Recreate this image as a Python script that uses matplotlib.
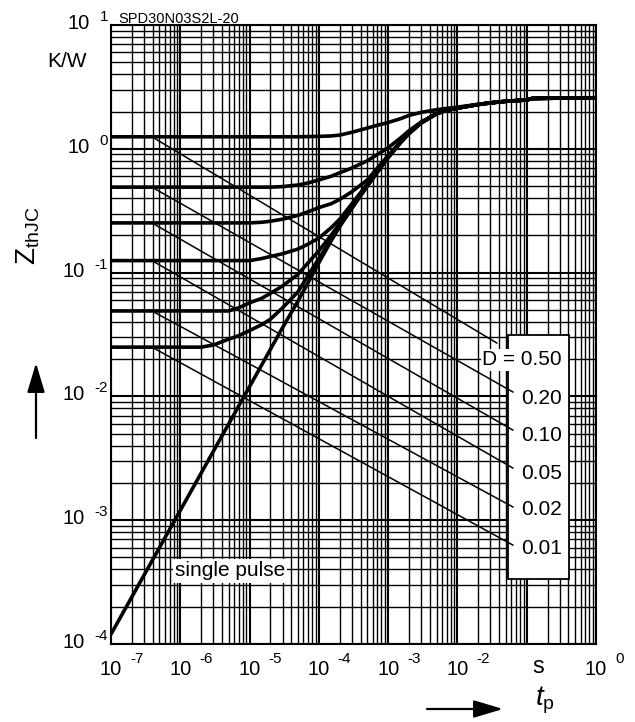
import numpy as np
import matplotlib
matplotlib.use('Agg')
import matplotlib.pyplot as plt
from matplotlib.ticker import LogLocator, NullFormatter
from matplotlib.patches import Rectangle

plt.rcParams['font.family'] = ['Liberation Sans', 'DejaVu Sans']
plt.rcParams['mathtext.fontset'] = 'custom'
plt.rcParams['mathtext.rm'] = 'Liberation Sans'
plt.rcParams['mathtext.it'] = 'Liberation Sans:italic'

# ---------------- data ----------------
tp = [1e-7, 1e-6, 2e-6, 3e-6, 5e-6, 7e-6, 1e-5, 1.5e-5, 2e-5, 3e-5, 5e-5, 7e-5,
      1e-4, 1.5e-4, 2e-4, 3e-4, 5e-4, 7e-4, 1e-3, 1.5e-3, 2e-3, 3e-3, 5e-3, 7e-3,
      1e-2, 2e-2, 3e-2, 5e-2, 1e-1, 1.2e-1, 2e-1, 5e-1, 1.0]

z_single = [1.2e-4, 1.2e-3, 2.4e-3, 3.6e-3, 6.0e-3, 8.4e-3, 1.2e-2, 1.8e-2, 2.4e-2,
            3.6e-2, 5.9e-2, 8.3e-2, 0.12, 0.18, 0.235, 0.33, 0.50, 0.65, 0.85,
            1.12, 1.33, 1.62, 1.92, 2.05, 2.13, 2.28, 2.35, 2.42, 2.48, 2.55,
            2.56, 2.57, 2.57]
z_d50 = [1.25, 1.25, 1.25, 1.25, 1.25, 1.25, 1.25, 1.25, 1.25, 1.25, 1.25, 1.255,
         1.26, 1.27, 1.29, 1.36, 1.47, 1.55, 1.63, 1.75, 1.86, 1.97, 2.07, 2.12,
         2.17, 2.29, 2.35, 2.42, 2.48, 2.55, 2.56, 2.57, 2.57]
z_d20 = [0.49, 0.49, 0.49, 0.49, 0.49, 0.49, 0.49, 0.49, 0.49, 0.495, 0.51, 0.53,
         0.56, 0.60, 0.64, 0.70, 0.80, 0.90, 1.02, 1.22, 1.40, 1.65, 1.93, 2.06,
         2.14, 2.28, 2.35, 2.42, 2.48, 2.55, 2.56, 2.57, 2.57]
z_d10 = [0.252, 0.252, 0.252, 0.252, 0.252, 0.252, 0.252, 0.255, 0.26, 0.27, 0.29,
         0.31, 0.335, 0.36, 0.39, 0.45, 0.56, 0.70, 0.88, 1.14, 1.35, 1.63, 1.92,
         2.05, 2.13, 2.28, 2.35, 2.42, 2.48, 2.55, 2.56, 2.57, 2.57]
z_d05 = [0.125, 0.125, 0.125, 0.125, 0.125, 0.125, 0.125, 0.13, 0.135, 0.142, 0.155,
         0.17, 0.19, 0.23, 0.27, 0.36, 0.52, 0.66, 0.86, 1.12, 1.33, 1.62, 1.92,
         2.05, 2.13, 2.28, 2.35, 2.42, 2.48, 2.55, 2.56, 2.57, 2.57]
z_d02 = [0.049, 0.049, 0.049, 0.049, 0.049, 0.052, 0.057, 0.062, 0.068, 0.078, 0.097,
         0.12, 0.15, 0.20, 0.25, 0.34, 0.505, 0.65, 0.85, 1.12, 1.33, 1.62, 1.92,
         2.05, 2.13, 2.28, 2.35, 2.42, 2.48, 2.55, 2.56, 2.57, 2.57]
z_d01 = [0.025, 0.025, 0.025, 0.026, 0.029, 0.031, 0.034, 0.038, 0.042, 0.052, 0.070,
         0.095, 0.13, 0.185, 0.24, 0.335, 0.50, 0.65, 0.85, 1.12, 1.33, 1.62, 1.92,
         2.05, 2.13, 2.28, 2.35, 2.42, 2.48, 2.55, 2.56, 2.57, 2.57]

d_labels = ['D = 0.50', '0.20', '0.10', '0.05', '0.02', '0.01']
d_start = [1.25, 0.49, 0.252, 0.125, 0.049, 0.025]      # curve level at leader start
leader_x0 = 3.9e-7
leader_x1 = [0.037, 0.063, 0.063, 0.063, 0.063, 0.063]
leader_y1 = [0.027, 0.01086, 0.00535, 0.00264, 0.00128, 6.3e-4]
label_x = 0.322
label_y = [0.0197, 0.0097, 0.00479, 0.0024, 0.00121, 5.96e-4]

x_tick_vals = [1e-7, 1e-6, 1e-5, 1e-4, 1e-3, 1e-2, 1.0]
x_tick_exp = ['-7', '-6', '-5', '-4', '-3', '-2', '0']
y_tick_vals = [1e1, 1e0, 1e-1, 1e-2, 1e-3, 1e-4]
y_tick_exp = ['1', '0', '-1', '-2', '-3', '-4']

# ---------------- figure ----------------
W, H = 635, 722
fig = plt.figure(figsize=(W / 100, H / 100), dpi=100)
ax = fig.add_axes([111 / W, 1 - 644 / H, (596 - 111) / W, (644 - 25) / H])
ax.set_xscale('log')
ax.set_yscale('log')
ax.set_xlim(1e-7, 1.0)
ax.set_ylim(1e-4, 1e1)

ax.xaxis.set_major_locator(LogLocator(base=10, numticks=20))
ax.xaxis.set_minor_locator(LogLocator(base=10, subs=np.arange(2, 10), numticks=200))
ax.yaxis.set_major_locator(LogLocator(base=10, numticks=20))
ax.yaxis.set_minor_locator(LogLocator(base=10, subs=np.arange(2, 10), numticks=200))
for a in (ax.xaxis, ax.yaxis):
    a.set_major_formatter(NullFormatter())
    a.set_minor_formatter(NullFormatter())
ax.tick_params(which='both', length=0)
ax.grid(True, which='major', color='black', linewidth=1.5)
ax.grid(True, which='minor', color='black', linewidth=1.0)
for sp in ax.spines.values():
    sp.set_linewidth(1.5)
    sp.set_color('black')

for z in [z_single, z_d50, z_d20, z_d10, z_d05, z_d02, z_d01]:
    ax.plot(tp, z, color='black', linewidth=2.6, zorder=3,
            solid_capstyle='round', solid_joinstyle='round')

# legend box
ax.add_patch(Rectangle((0.054, 3.35e-4), 0.41 - 0.054, 0.0313 - 3.35e-4,
                       facecolor='white', edgecolor='black', linewidth=1.3, zorder=4))

for i in range(len(d_labels)):
    ax.plot([leader_x0, leader_x1[i]], [d_start[i], leader_y1[i]],
            color='black', linewidth=1.1, zorder=5)
    kw = dict(ha='right', va='center', fontsize=15, zorder=6)
    if i == 0:
        kw['bbox'] = dict(facecolor='white', edgecolor='none', pad=1.0)
    ax.text(label_x, label_y[i], d_labels[i], **kw)

ax.text(5.2e-6, 3.89e-4, 'single pulse', ha='center', va='center', fontsize=15, zorder=6,
        bbox=dict(facecolor='white', edgecolor='none', pad=1.5))

# tick labels
renderer = fig.canvas.get_renderer()
for v, e in zip(x_tick_vals, x_tick_exp):
    ax.annotate('10', xy=(v, 0), xycoords=('data', 'axes fraction'),
                xytext=(0, -31), textcoords='offset pixels', ha='center',
                va='baseline', fontsize=14.5, annotation_clip=False)
    ax.annotate(e, xy=(v, 0), xycoords=('data', 'axes fraction'),
                xytext=(19, -19), textcoords='offset pixels', ha='left',
                va='baseline', fontsize=11, annotation_clip=False)
ax.annotate('s', xy=(1e-1, 0), xycoords=('data', 'axes fraction'),
            xytext=(12, -29), textcoords='offset pixels', ha='center',
            va='baseline', fontsize=17, annotation_clip=False)

for v, e in zip(y_tick_vals, y_tick_exp):
    t = ax.annotate(e, xy=(0, v), xycoords=('axes fraction', 'data'),
                    xytext=(-3, 4), textcoords='offset pixels', ha='right',
                    va='baseline', fontsize=11, annotation_clip=False)
    w = t.get_window_extent(renderer).width
    ax.annotate('10', xy=(0, v), xycoords=('axes fraction', 'data'),
                xytext=(-3 - w - 10, -4), textcoords='offset pixels', ha='right',
                va='baseline', fontsize=14.5, annotation_clip=False)


def fx(px):
    return px / W


def fy(py):
    return 1 - py / H


fig.text(fx(67), fy(67), 'K/W', ha='center', va='baseline', fontsize=15)
fig.text(fx(118), fy(23), 'SPD30N03S2L-20', ha='left', va='baseline', fontsize=10.5,
         family=['Liberation Sans Narrow', 'Liberation Sans'])
fig.text(fx(28), fy(236), r'$\mathrm{Z}_{\mathrm{thJC}}$', rotation=90,
         ha='center', va='center', fontsize=20)
fig.text(fx(545), fy(700), r'$t_{\mathrm{p}}$', ha='center', va='center', fontsize=20)

ax.annotate('', xy=(503, H - 709), xycoords='figure pixels',
            xytext=(427, H - 709), textcoords='figure pixels',
            arrowprops=dict(arrowstyle='-|>,head_length=1.0,head_width=0.3',
                            mutation_scale=18, lw=1.6, color='black',
                            shrinkA=0, shrinkB=0))
ax.annotate('', xy=(36, H - 363), xycoords='figure pixels',
            xytext=(36, H - 438), textcoords='figure pixels',
            arrowprops=dict(arrowstyle='-|>,head_length=1.0,head_width=0.3',
                            mutation_scale=18, lw=1.6, color='black',
                            shrinkA=0, shrinkB=0))

fig.savefig('out.png', dpi=100)
